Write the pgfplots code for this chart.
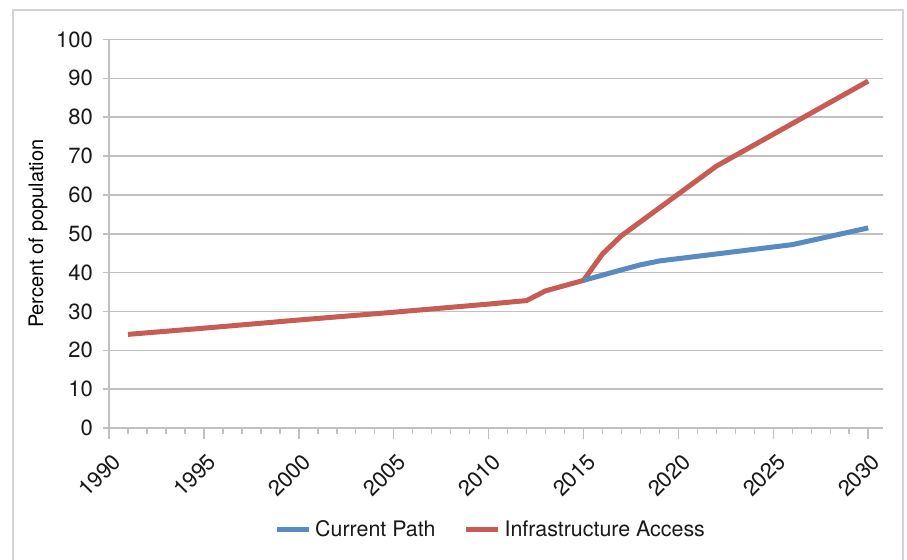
\documentclass[border=0pt]{standalone}
\usepackage{pgfplots}
\pgfplotsset{compat=1.18}
\usepackage{fontspec}
\setmainfont{TeX Gyre Heros}

\definecolor{cpblue}{RGB}{89,139,195}
\definecolor{iared}{RGB}{198,92,84}
\definecolor{gridgray}{RGB}{192,192,192}
\definecolor{framegray}{RGB}{212,212,212}
\definecolor{txt}{RGB}{25,25,25}

\begin{document}
\begin{tikzpicture}
% outer chart frame (bottom edge runs off the picture)
\draw[framegray, line width=1.2pt] (-48pt,-80pt) -- (-48pt,209pt) -- (397pt,209pt) -- (397pt,-80pt);
\begin{axis}[
  at={(0pt,0pt)}, anchor=south west,
  scale only axis, width=387.2pt, height=194.25pt,
  xmin=1990, xmax=2030.8, ymin=0, ymax=100,
  axis lines*=left,
  axis line style={gridgray, line width=0.75pt},
  xtick={1990,1995,...,2030},
  minor x tick num=4,
  ytick={0,10,...,100},
  minor ytick={0,10,...,100},
  major y tick style={draw=none},
  ymajorgrids=true,
  major grid style={gridgray, line width=0.75pt},
  tick align=outside,
  major tick length=5.5pt, minor tick length=3pt,
  tick style={gridgray, line width=0.75pt},
  tick label style={txt, font=\fontsize{11}{13}\selectfont},
  /pgf/number format/assume math mode=true,
  /pgf/number format/1000 sep={},
  xticklabel style={xshift=6.5pt, yshift=-7pt, rotate=45, anchor=east},
  yticklabel style={anchor=east, xshift=1pt},
  ylabel={Percent of population},
  ylabel style={txt, font=\fontsize{10.8}{12}\selectfont},
  every axis y label/.style={at={(axis description cs:-0.0917,0.5)}, rotate=90, anchor=center},
  legend style={draw=none, fill=none, at={(axis description cs:0.494,-0.262)}, anchor=center,
    font=\fontsize{10.7}{12}\selectfont, text=txt,
    /tikz/every even column/.append style={column sep=12pt}},
  legend columns=2,
  legend cell align=left,
  legend image code/.code={\draw[#1] (0pt,0pt) -- (16pt,0pt);},
  every axis plot/.append style={line width=2.5pt, line join=round},
]
\addplot[iared, forget plot] coordinates {
  (1991,24.1)(1995,25.7)(2000,27.8)(2005,29.8)(2010,31.9)(2012,32.8)
  (2013,35.3)(2015,38.0)(2016,44.8)(2017,49.5)(2022,67.4)(2030,89.3)
};
\addplot[cpblue] coordinates {
  (2015,38.0)(2017,40.7)(2018,42.0)(2019,43.0)(2026,47.2)(2030,51.5)
};
\addlegendentry{Current Path}
\addlegendimage{iared, line width=2.5pt}
\addlegendentry{Infrastructure Access}
\end{axis}
\pgfresetboundingbox
\path[use as bounding box] (-54.5pt,-65.5pt) rectangle (399pt,214pt);
\end{tikzpicture}
\end{document}
